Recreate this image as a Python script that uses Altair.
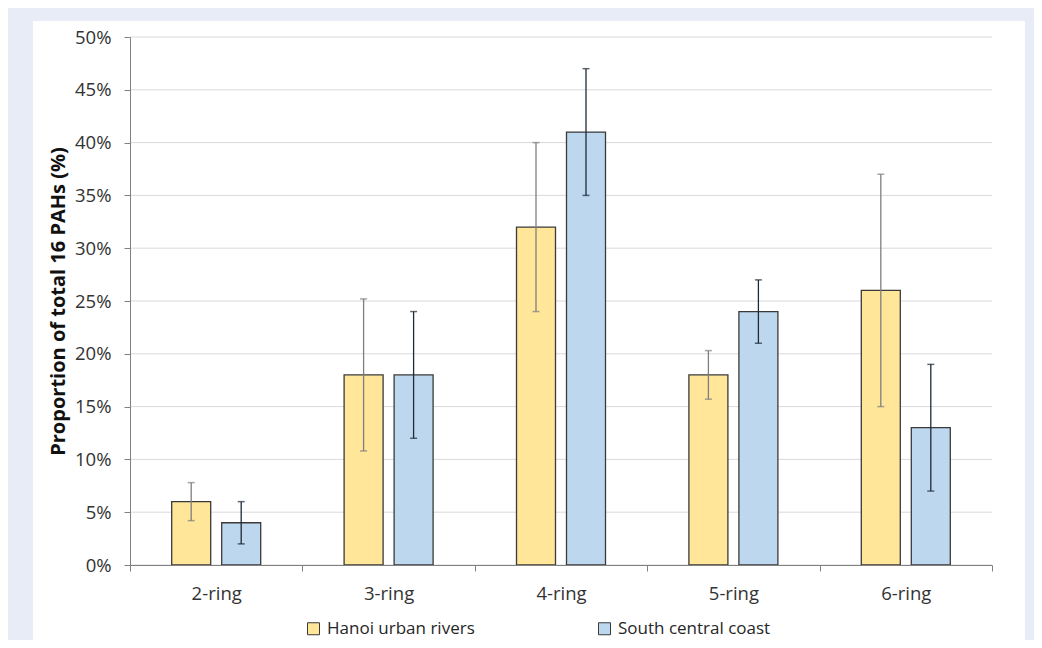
import altair as alt
import pandas as pd

rings = ["2-ring", "3-ring", "4-ring", "5-ring", "6-ring"]
series = ["Hanoi urban rivers", "South central coast"]

hanoi_mean = [6, 18, 32, 18, 26]
hanoi_lo = [4.2, 10.8, 24, 15.7, 15]
hanoi_hi = [7.8, 25.2, 40, 20.3, 37]

south_mean = [4, 18, 41, 24, 13]
south_lo = [2, 12, 35, 21, 7]
south_hi = [6, 24, 47, 27, 19]

y_ticks = [0, 5, 10, 15, 20, 25, 30, 35, 40, 45, 50]

rows = []
for i, r in enumerate(rings):
    rows.append({"ring": r, "series": series[0], "mean": hanoi_mean[i], "lo": hanoi_lo[i], "hi": hanoi_hi[i]})
    rows.append({"ring": r, "series": series[1], "mean": south_mean[i], "lo": south_lo[i], "hi": south_hi[i]})
df = pd.DataFrame(rows)

FONT = "Open Sans"

x_enc = alt.X(
    "ring:N",
    sort=rings,
    scale=alt.Scale(paddingInner=0, paddingOuter=0),
    axis=alt.Axis(
        title=None,
        tickBand="extent",
        labelAngle=0,
        labelFontSize=18.5,
        labelColor="#333333",
        labelFont=FONT,
        labelPadding=13,
        tickSize=6,
        tickColor="#808080",
        domainColor="#808080",
        grid=False,
        zindex=1,
    ),
)
xoff = alt.XOffset("series:N", sort=series, scale=alt.Scale(paddingInner=0.22, paddingOuter=0.834))
y_scale = alt.Scale(domain=[0, 50], nice=False)

base = alt.Chart(df)

grid = alt.Chart(pd.DataFrame({"t": y_ticks})).mark_rule(color="#d9d9d9", strokeWidth=1).encode(
    y=alt.Y("t:Q", scale=y_scale)
)

bars = base.mark_bar(stroke="#3a3a3a", strokeWidth=1.3).encode(
    x=x_enc,
    xOffset=xoff,
    y=alt.Y(
        "mean:Q",
        scale=y_scale,
        axis=alt.Axis(
            title="Proportion of total 16 PAHs (%)",
            titleFont=FONT,
            titleFontSize=20,
            titleFontWeight="bold",
            titleColor="#111111",
            titlePadding=6,
            values=y_ticks,
            labelExpr="datum.value + '%'",
            labelFontSize=18.5,
            labelColor="#333333",
            labelFont=FONT,
            labelPadding=13,
            tickSize=6,
            tickColor="#808080",
            domainColor="#808080",
            grid=False,
            zindex=1,
        ),
    ),
    fill=alt.Fill(
        "series:N",
        sort=series,
        scale=alt.Scale(domain=series, range=["#ffe699", "#bdd7ee"]),
        legend=alt.Legend(
            title=None,
            orient="none",
            legendX=175,
            legendY=583,
            direction="horizontal",
            columnPadding=121,
            symbolType="square",
            symbolSize=144,
            symbolStrokeColor="#3a3a3a",
            symbolStrokeWidth=1,
            labelFont=FONT,
            labelFontSize=17,
            labelColor="#262626",
            labelOffset=5,
            padding=0,
            zindex=1,
        ),
    ),
)

err_color = alt.condition(
    alt.datum.series == series[0], alt.value("#7f7f7f"), alt.value("#1e2a38")
)

rules = base.mark_rule(strokeWidth=1.3).encode(
    x=x_enc, xOffset=xoff, y=alt.Y("lo:Q", scale=y_scale), y2="hi:Q", stroke=err_color
)
cap_lo = base.mark_tick(size=7, thickness=1.5).encode(
    x=x_enc, xOffset=xoff, y=alt.Y("lo:Q", scale=y_scale), color=err_color
)
cap_hi = base.mark_tick(size=7, thickness=1.5).encode(
    x=x_enc, xOffset=xoff, y=alt.Y("hi:Q", scale=y_scale), color=err_color
)

panel = alt.Chart(pd.DataFrame({"a": [0]})).mark_rect(fill="white").encode(
    x=alt.value(-97), x2=alt.value(895), y=alt.value(-16), y2=alt.value(620)
)

chart = (
    alt.layer(panel, grid, bars, rules, cap_lo, cap_hi)
    .properties(
        width=862,
        height=528,
        autosize="none",
        padding={"left": 122, "top": 29, "right": 42, "bottom": 75},
        background="#e7ecf6",
    )
    .configure_view(stroke="transparent")
)

chart.save("out.html", embed_options={"renderer": "svg", "actions": False})
